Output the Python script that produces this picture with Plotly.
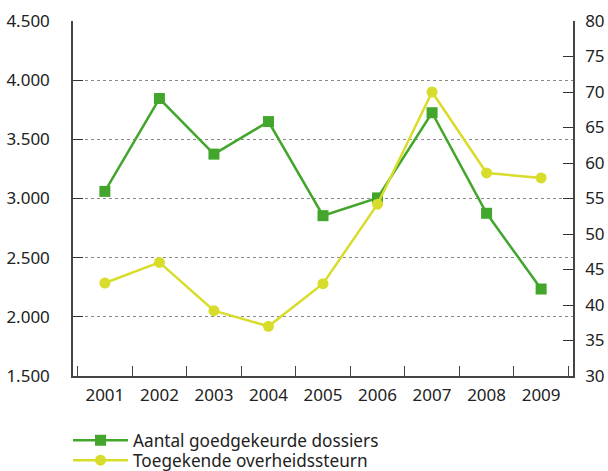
import plotly.graph_objects as go

years = ["2001", "2002", "2003", "2004", "2005", "2006", "2007", "2008", "2009"]
dossiers = [3060, 3845, 3375, 3650, 2855, 3005, 3725, 2875, 2235]
steun = [43.1, 46.0, 39.2, 37.0, 43.0, 54.2, 70.0, 58.6, 57.9]

green = "#42a62c"
yellow = "#d8dc2a"
font_family = "Noto Sans, Open Sans, sans-serif"

fig = go.Figure()
fig.add_trace(go.Scatter(
    x=years, y=dossiers, name="Aantal goedgekeurde dossiers",
    mode="lines+markers",
    line=dict(color=green, width=2.5),
    marker=dict(symbol="square", size=11, color=green),
    yaxis="y", legend="legend",
))
fig.add_trace(go.Scatter(
    x=years, y=steun, name="Toegekende overheidssteurn",
    mode="lines+markers",
    line=dict(color=yellow, width=2.5),
    marker=dict(symbol="circle", size=11, color=yellow),
    yaxis="y2", legend="legend2",
))

legend_common = dict(
    xanchor="left", yanchor="top", orientation="v",
    font=dict(size=17.2, color="#222222"),
    bgcolor="rgba(0,0,0,0)", itemwidth=55,
)

fig.update_layout(
    width=608, height=471,
    margin=dict(l=73, r=35, t=21, b=95, autoexpand=False),
    paper_bgcolor="white", plot_bgcolor="white",
    separators=",.",
    font=dict(family=font_family, size=17, color="#222222"),
    showlegend=True,
    legend=dict(x=-0.01, y=-0.131, **legend_common),
    legend2=dict(x=-0.01, y=-0.1873, **legend_common),
    xaxis=dict(
        type="category", automargin=False,
        showline=True, linecolor="#444444", linewidth=1.5,
        ticks="inside", tickson="boundaries", ticklen=10, tickcolor="#444444",
        showgrid=False, mirror=False, ticklabelstandoff=3,
        tickfont=dict(size=17),
    ),
    yaxis=dict(
        range=[1500, 4500], dtick=500, tickformat=",", automargin=False,
        showline=True, linecolor="#444444", linewidth=1.5,
        ticks="inside", ticklen=10, tickcolor="#333333",
        showgrid=True, gridcolor="#8a8a8a", griddash="dot", gridwidth=1,
        zeroline=False, tickfont=dict(size=17), ticklabelstandoff=18,
    ),
    yaxis2=dict(
        range=[30, 80], dtick=5, overlaying="y", side="right", automargin=False,
        showline=True, linecolor="#444444", linewidth=1.5,
        ticks="inside", ticklen=10, tickcolor="#333333",
        showgrid=False, zeroline=False, tickfont=dict(size=17),
        ticklabelstandoff=7,
    ),
)

fig.write_html(
    "out.html",
    config={"displayModeBar": False},
    post_script="document.body.style.margin='0';document.body.style.padding='0';",
)
